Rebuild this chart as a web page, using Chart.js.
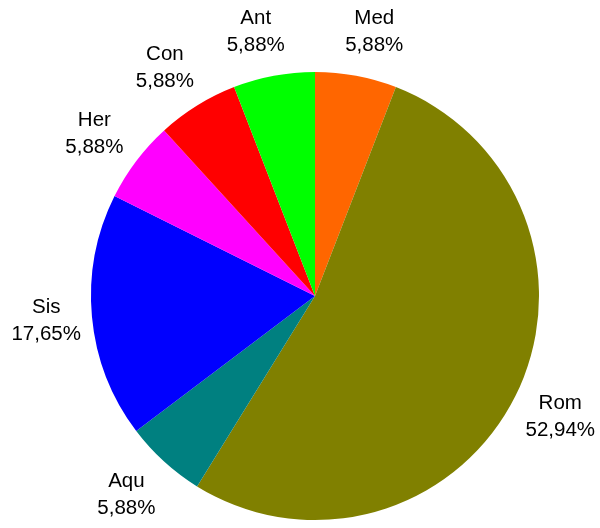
<!DOCTYPE html>
<html>
<head>
<meta charset="utf-8">
<script src="https://cdn.jsdelivr.net/npm/chart.js@4"></script>
<style>
  html, body { margin: 0; padding: 0; background: #ffffff; }
  canvas { display: block; }
</style>
</head>
<body>
<canvas id="chart" width="600" height="528"></canvas>
<script>
// =======================
// DATA
// =======================
const categories = ['Med', 'Rom', 'Aqu', 'Sis', 'Her', 'Con', 'Ant'];
const shares = [5.88, 52.94, 5.88, 17.65, 5.88, 5.88, 5.88];
const sliceColors = ['#ff6600', '#808000', '#008080', '#0000ff', '#ff00ff', '#ff0000', '#00ff00'];


// =======================
// OUTSIDE LABELS PLUGIN
// =======================
const outsideLabels = {
    id: 'outsideLabels',
    afterDatasetsDraw(chart) {
        const ctx = chart.ctx;
        const meta = chart.getDatasetMeta(0);
        ctx.save();
        ctx.font = '20.5px "Liberation Sans", Arial, sans-serif';
        ctx.fillStyle = '#000000';
        ctx.textAlign = 'center';
        ctx.textBaseline = 'middle';
        meta.data.forEach((arc, i) => {
            const p = arc.getProps(['x', 'y', 'startAngle', 'endAngle', 'outerRadius'], true);
            const mid = (p.startAngle + p.endAngle) / 2;
            const r = p.outerRadius + 45;
            const c = Math.cos(mid), s = Math.sin(mid);
            // push labels sideways a bit when they sit near the top/bottom
            const lx = p.x + c * r + Math.sign(c) * 10 * Math.abs(s);
            const ly = p.y + s * r;
            const pct = shares[i].toFixed(2).replace('.', ',') + '%';
            ctx.fillText(categories[i], lx, ly - 13);
            ctx.fillText(pct, lx, ly + 14);
        });
        ctx.restore();
    }
};


// =======================
// DRAW CHART
// =======================
let ctx = document.getElementById('chart').getContext('2d');

new Chart(ctx, {
    type: 'pie',
    data: {
        labels: categories,
        datasets: [{
            data: shares,
            backgroundColor: sliceColors,
            borderWidth: 0
        }]
    },
    options: {
        responsive: false,
        animation: false,
        layout: {
            padding: { left: 91, right: 61, top: 72, bottom: 8 }
        },
        plugins: {
            legend: { display: false },
            tooltip: { enabled: false }
        }
    },
    plugins: [outsideLabels]
});
</script>
</body>
</html>
